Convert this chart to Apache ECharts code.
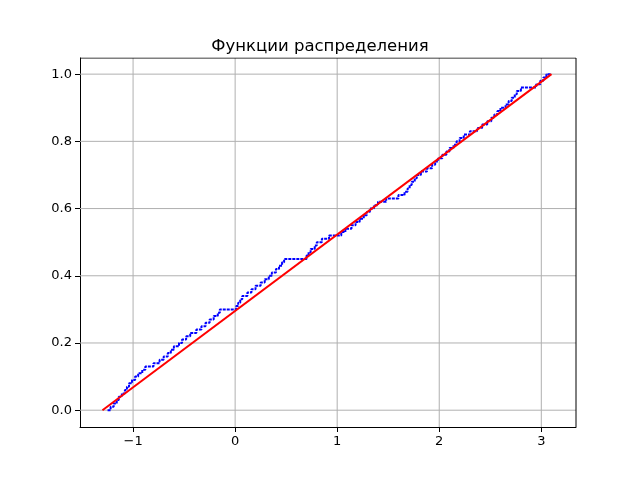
<!DOCTYPE html>
<html><head><meta charset="utf-8">
<script src="https://cdn.jsdelivr.net/npm/echarts@6/dist/echarts.min.js"></script>
<style>html,body{margin:0;background:#fff}#c{width:640px;height:480px}</style>
</head><body><div id="c"></div>
<script>
const sampleX = [-1.25,-1.22,-1.19,-1.16,-1.14,-1.11,-1.08,-1.06,-1.04,-1.01,
-0.98,-0.95,-0.91,-0.88,-0.80,-0.74,-0.70,-0.66,-0.63,-0.60,
-0.55,-0.52,-0.48,-0.44,-0.38,-0.33,-0.29,-0.25,-0.21,-0.17,
-0.15,0.01,0.03,0.05,0.07,0.12,0.16,0.20,0.25,0.29,
0.33,0.36,0.40,0.43,0.46,0.48,0.70,0.72,0.74,0.78,
0.80,0.85,0.92,1.04,1.08,1.14,1.18,1.22,1.26,1.29,
1.32,1.36,1.40,1.48,1.60,1.66,1.69,1.71,1.73,1.76,
1.78,1.82,1.88,1.93,1.96,1.99,2.03,2.07,2.10,2.14,
2.17,2.20,2.24,2.30,2.37,2.42,2.47,2.51,2.54,2.57,
2.60,2.65,2.68,2.71,2.74,2.76,2.80,2.95,2.99,3.02,3.05,3.10];
const theoryX = [-1.3, 3.1];
const theoryY = [0, 1];
const n = 100;
const ecdf = sampleX.map((x,i)=>[x, Math.min(i/n,1)]);
const theory = theoryX.map((x,i)=>[x, theoryY[i]]);
const chart = echarts.init(document.getElementById('c'));
const tick = {color:'#000',fontSize:13,fontFamily:'DejaVu Sans'};
chart.setOption({
  animation:false,
  title:{text:'Функции распределения',left:'center',top:33,textStyle:{fontFamily:'DejaVu Sans',fontSize:16.5,fontWeight:'normal',color:'#000'}},
  grid:{left:80,right:64,top:58,bottom:53},
  xAxis:{type:'value',min:-1.52,max:3.34,interval:1,
    axisLabel:{...tick,customValues:[-1,0,1,2,3],formatter:v=>String(v).replace('-','\u2212')},
    axisTick:{customValues:[-1,0,1,2,3],lineStyle:{color:'#000'}},
    axisLine:{onZero:false,lineStyle:{color:'#000'}},
    splitLine:{show:false}},
  yAxis:{type:'value',min:-0.05,max:1.048,
    axisLabel:{...tick,customValues:[0,0.2,0.4,0.6,0.8,1.0],formatter:v=>v.toFixed(1)},
    axisTick:{show:true,customValues:[0,0.2,0.4,0.6,0.8,1.0],lineStyle:{color:'#000'}},
    axisLine:{show:true,onZero:false,lineStyle:{color:'#000'}},
    splitLine:{show:false}},
  series:[
    {type:'line',data:[[-1,-0.05],[-1,1.048],null,[0,-0.05],[0,1.048],null,[1,-0.05],[1,1.048],null,[2,-0.05],[2,1.048],null,[3,-0.05],[3,1.048]],
     connectNulls:false,symbol:'none',silent:true,lineStyle:{color:'#b0b0b0',width:1}},
    {type:'line',data:[[-1.52,0],[3.34,0],null,[-1.52,0.2],[3.34,0.2],null,[-1.52,0.4],[3.34,0.4],null,[-1.52,0.6],[3.34,0.6],null,[-1.52,0.8],[3.34,0.8],null,[-1.52,1],[3.34,1]],
     connectNulls:false,symbol:'none',silent:true,lineStyle:{color:'#b0b0b0',width:1}},
    {type:'line',data:ecdf,step:'end',symbol:'none',lineStyle:{color:'#0000ff',width:2,type:[3,1]}},
    {type:'line',data:theory,symbol:'none',lineStyle:{color:'#ff0000',width:2}},
    {type:'line',data:[[-1.52,1.048],[3.34,1.048],[3.34,-0.05]],symbol:'none',silent:true,lineStyle:{color:'#000',width:1}}
  ]
});
</script></body></html>
